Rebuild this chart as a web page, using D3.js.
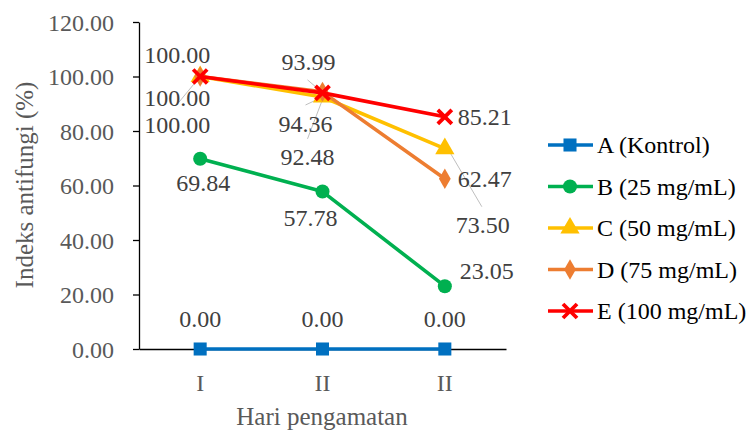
<!DOCTYPE html>
<html><head><meta charset="utf-8">
<script src="https://cdn.jsdelivr.net/npm/d3@7"></script>
<style>body{margin:0;background:#fff}</style>
</head><body>
<svg id="c" width="746" height="433"></svg>
<script>
const categories = ["I", "II", "II"];
const seriesNames = ["A (Kontrol)", "B (25 mg/mL)", "C (50 mg/mL)", "D (75 mg/mL)", "E (100 mg/mL)"];
const valuesA = [0.00, 0.00, 0.00];
const valuesB = [69.84, 57.78, 23.05];
const valuesC = [100.00, 92.48, 73.50];
const valuesD = [100.00, 94.36, 62.47];
const valuesE = [100.00, 93.99, 85.21];
const yTicks = [0, 20, 40, 60, 80, 100, 120];

const colors = ["#0070C0", "#00B050", "#FFC000", "#ED7D31", "#FF0000"];
const symbols = [d3.symbolSquare, d3.symbolCircle, d3.symbolTriangle, d3.symbolDiamond, d3.symbolX];
const symSizes = [170, 155, 160, 120, 130];
// label placement: [dx, dy(center), anchor] relative to the point
const labelPos = [
  [[0,-30,"middle"],[0,-30,"middle"],[0,-30,"middle"]],
  [[3,24,"middle"],[-12,26,"middle"],[15,-16,"start"]],
  [[-23,48,"middle"],[-15,60,"middle"],[38,76,"middle"]],
  [[-23,21,"middle"],[-17,32,"middle"],[13,0,"start"]],
  [[-23,-22,"middle"],[-14,-31,"middle"],[13,0,"start"]]
];
const leaders = [
  null,
  null,
  [null, [[0,0],[-17,8]], [[0,-5],[37,58]]],
  [[[0,0],[-24,29]], [[1,5],[-15,47]], null],
  [null, [[-2,-2],[-15,-13]], null]
];

const series = [valuesA, valuesB, valuesC, valuesD, valuesE];
const svg = d3.select("#c");
const font = "'Liberation Serif','Times New Roman',serif";

const x = d3.scaleBand().domain(d3.range(categories.length)).range([139, 506]).padding(0);
const y = d3.scaleLinear().domain([0, 120]).range([349, 22]);
const cx = i => x(i) + x.bandwidth() / 2;

// y axis
const yAxis = svg.append("g").attr("transform", "translate(139,0)")
  .call(d3.axisLeft(y).tickValues(yTicks).tickFormat(d3.format(".2f")).tickSize(6).tickSizeOuter(0));
yAxis.select(".domain").attr("stroke", "#000").attr("stroke-width", 1.3);
yAxis.selectAll(".tick line").attr("stroke", "#000").attr("stroke-width", 1.3);
yAxis.selectAll(".tick text").attr("font-family", font).attr("font-size", 24).attr("fill", "#595959").attr("x", -25).attr("dy", "0.35em");

// x axis
const xAxis = svg.append("g").attr("transform", "translate(0,349)")
  .call(d3.axisBottom(x).tickFormat(i => categories[i]).tickSize(0).tickSizeOuter(0));
xAxis.select(".domain").attr("stroke", "#000").attr("stroke-width", 1.3);
xAxis.selectAll(".tick text").attr("font-family", font).attr("font-size", 24).attr("fill", "#595959").attr("y", 34).attr("dy", "0.35em");

// titles
svg.append("text").attr("x", 322).attr("y", 416).attr("dy", "0.35em").attr("text-anchor", "middle")
  .attr("font-family", font).attr("font-size", 25).attr("fill", "#595959").text("Hari pengamatan");
svg.append("text").attr("transform", "translate(24,185) rotate(-90)").attr("dy", "0.35em").attr("text-anchor", "middle")
  .attr("font-family", font).attr("font-size", 25).attr("fill", "#595959").text("Indeks antifungi (%)");

// leader lines
leaders.forEach((ls, s) => {
  if (!ls) return;
  ls.forEach((l, i) => {
    if (!l) return;
    svg.append("line").attr("x1", cx(i) + l[0][0]).attr("y1", y(series[s][i]) + l[0][1])
      .attr("x2", cx(i) + l[1][0]).attr("y2", y(series[s][i]) + l[1][1])
      .attr("stroke", "#BFBFBF").attr("stroke-width", 1);
  });
});

const line = d3.line().x((d, i) => cx(i)).y(d => y(d));
series.forEach((vals, s) => {
  const g = svg.append("g");
  g.append("path").datum(vals).attr("d", line).attr("fill", "none")
    .attr("stroke", colors[s]).attr("stroke-width", 3.6).attr("stroke-linejoin", "round");
  vals.forEach((v, i) => {
    const p = g.append("path").attr("d", d3.symbol().type(symbols[s]).size(symSizes[s])())
      .attr("transform", `translate(${cx(i)},${y(v)})`);
    if (s === 4) p.attr("fill", "none").attr("stroke", colors[s]).attr("stroke-width", 3.8);
    else p.attr("fill", colors[s]);
  });
});

// data labels
series.forEach((vals, s) => {
  vals.forEach((v, i) => {
    const lp = labelPos[s][i];
    svg.append("text").attr("x", cx(i) + lp[0]).attr("y", y(v) + lp[1]).attr("dy", "0.35em")
      .attr("text-anchor", lp[2]).attr("font-family", font).attr("font-size", 24)
      .attr("fill", "#404040").text(d3.format(".2f")(v));
  });
});

// legend
seriesNames.forEach((n, s) => {
  const ly = 145 + s * 41.5;
  const g = svg.append("g");
  g.append("line").attr("x1", 548).attr("x2", 593).attr("y1", ly).attr("y2", ly)
    .attr("stroke", colors[s]).attr("stroke-width", 3.6);
  const p = g.append("path").attr("d", d3.symbol().type(symbols[s]).size(symSizes[s])())
    .attr("transform", `translate(570,${ly})`);
  if (s === 4) p.attr("fill", "none").attr("stroke", colors[s]).attr("stroke-width", 3.8);
  else p.attr("fill", colors[s]);
  g.append("text").attr("x", 597).attr("y", ly).attr("dy", "0.35em")
    .attr("font-family", font).attr("font-size", 24).attr("fill", "#000").text(n);
});
</script>
</body></html>
